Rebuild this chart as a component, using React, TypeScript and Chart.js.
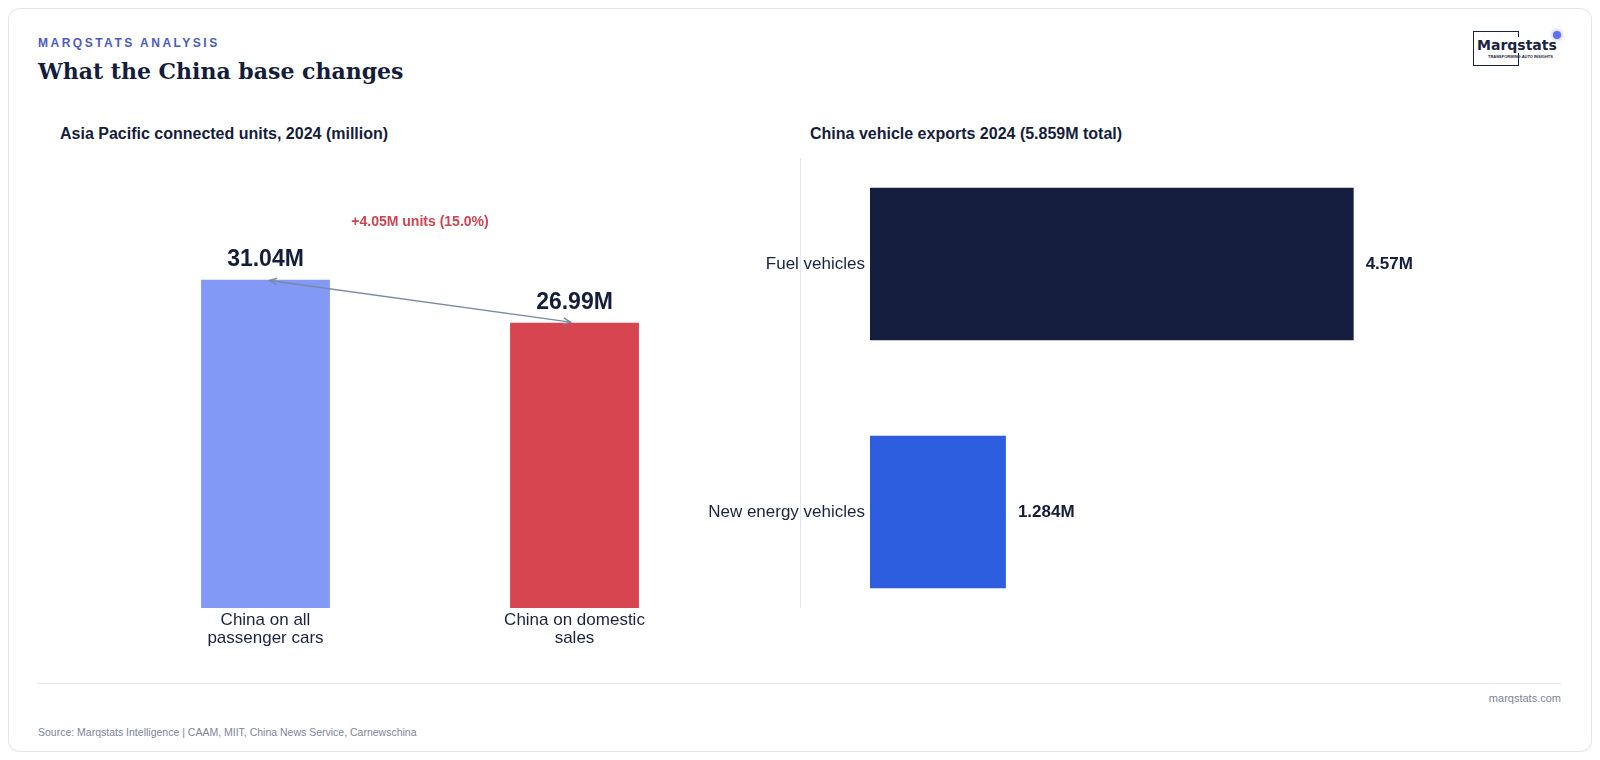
import React, { useEffect, useRef } from "react";
import { Chart, registerables } from "chart.js";

Chart.register(...registerables);

// ---- Data ----
const leftCategories: string[][] = [
  ["China on all", "passenger cars"],
  ["China on domestic", "sales"],
];
const leftValues: number[] = [31.04, 26.99];
const leftValueLabels: string[] = ["31.04M", "26.99M"];
const leftColors: string[] = ["#8299F5", "#D64550"];
const leftAxisMax = 42;
const deltaText = "+4.05M units (15.0%)";

const rightCategories: string[] = ["Fuel vehicles", "New energy vehicles"];
const rightValues: number[] = [4.57, 1.284];
const rightValueLabels: string[] = ["4.57M", "1.284M"];
const rightColors: string[] = ["#151E3F", "#2C5EDF"];
const rightAxisMax = 6;

const FONT = "'Liberation Sans', Arial, Helvetica, sans-serif";
const INK = "#141D3B";

function LeftChart() {
  const ref = useRef<HTMLCanvasElement | null>(null);
  useEffect(() => {
    if (!ref.current) return;
    const labelsPlugin = {
      id: "leftLabels",
      afterDatasetsDraw(chart: any) {
        const ctx = chart.ctx;
        const meta = chart.getDatasetMeta(0);
        const yScale = chart.scales.y;
        ctx.save();
        ctx.font = `bold 23px ${FONT}`;
        ctx.fillStyle = INK;
        ctx.textAlign = "center";
        ctx.textBaseline = "middle";
        meta.data.forEach((bar: any, i: number) => {
          ctx.fillText(leftValueLabels[i], bar.x, bar.y - 20);
        });
        // arrow between bar tops
        const a = meta.data[0];
        const b = meta.data[1];
        const dx = b.x - a.x;
        const dy = b.y - a.y;
        const len = Math.sqrt(dx * dx + dy * dy);
        const ux = dx / len;
        const uy = dy / len;
        const shrink = 4;
        const x1 = a.x + ux * shrink;
        const y1 = a.y + uy * shrink;
        const x2 = b.x - ux * shrink;
        const y2 = b.y - uy * shrink;
        ctx.strokeStyle = "#7B8AA1";
        ctx.lineWidth = 1.5;
        ctx.beginPath();
        ctx.moveTo(x1, y1);
        ctx.lineTo(x2, y2);
        ctx.stroke();
        const head = (tx: number, ty: number, dirx: number, diry: number) => {
          const hl = 8;
          const ang = 0.42;
          const base = Math.atan2(diry, dirx);
          ctx.beginPath();
          ctx.moveTo(tx - hl * Math.cos(base - ang), ty - hl * Math.sin(base - ang));
          ctx.lineTo(tx, ty);
          ctx.lineTo(tx - hl * Math.cos(base + ang), ty - hl * Math.sin(base + ang));
          ctx.stroke();
        };
        head(x2, y2, ux, uy);
        head(x1, y1, -ux, -uy);
        // delta annotation
        const maxVal = Math.max(...leftValues);
        ctx.font = `bold 14px ${FONT}`;
        ctx.fillStyle = "#D0434F";
        ctx.fillText(deltaText, (a.x + b.x) / 2, yScale.getPixelForValue(maxVal * 1.18) + 1);
        ctx.restore();
      },
    };
    const chart = new Chart(ref.current, {
      type: "bar",
      data: {
        labels: leftCategories as any,
        datasets: [
          {
            data: leftValues,
            backgroundColor: leftColors,
            borderWidth: 0,
            barPercentage: 0.417,
            categoryPercentage: 1,
          },
        ],
      },
      options: {
        animation: false,
        responsive: false,
        maintainAspectRatio: false,
        layout: { padding: { left: 71, right: 31, top: 14, bottom: 12 } },
        plugins: { legend: { display: false }, tooltip: { enabled: false } },
        scales: {
          x: {
            grid: { display: false, drawTicks: false },
            border: { display: false },
            ticks: {
              color: "#1A2340",
              font: { size: 17, family: FONT, lineHeight: 1.06 },
              padding: 3,
              maxRotation: 0,
              autoSkip: false,
            },
            afterFit(scale: any) {
              scale.height = 60;
            },
          },
          y: { display: false, min: 0, max: leftAxisMax },
        },
      },
      plugins: [labelsPlugin],
    });
    return () => chart.destroy();
  }, []);
  return <canvas ref={ref} width={720} height={530} style={{ width: 720, height: 530, display: "block" }} />;
}

function RightChart() {
  const ref = useRef<HTMLCanvasElement | null>(null);
  useEffect(() => {
    if (!ref.current) return;
    const labelsPlugin = {
      id: "rightLabels",
      afterDatasetsDraw(chart: any) {
        const ctx = chart.ctx;
        const meta = chart.getDatasetMeta(0);
        ctx.save();
        ctx.font = `bold 17px ${FONT}`;
        ctx.fillStyle = INK;
        ctx.textAlign = "left";
        ctx.textBaseline = "middle";
        meta.data.forEach((bar: any, i: number) => {
          ctx.fillText(rightValueLabels[i], bar.x + 12, bar.y);
        });
        ctx.restore();
      },
    };
    const chart = new Chart(ref.current, {
      type: "bar",
      data: {
        labels: rightCategories,
        datasets: [
          {
            data: rightValues,
            backgroundColor: rightColors,
            borderWidth: 0,
            barPercentage: 0.614,
            categoryPercentage: 1,
          },
        ],
      },
      options: {
        indexAxis: "y",
        animation: false,
        responsive: false,
        maintainAspectRatio: false,
        layout: { padding: { left: 0, right: 20, top: 20, bottom: 24 } },
        plugins: { legend: { display: false }, tooltip: { enabled: false } },
        scales: {
          x: { display: false, min: 0, max: rightAxisMax },
          y: {
            grid: { display: false, drawTicks: false },
            border: { display: false },
            ticks: {
              color: "#1A2340",
              font: { size: 17, family: FONT },
              padding: 5,
              autoSkip: false,
            },
            afterFit(scale: any) {
              scale.width = 180;
            },
          },
        },
      },
      plugins: [labelsPlugin],
    });
    return () => chart.destroy();
  }, []);
  return <canvas ref={ref} width={835} height={540} style={{ width: 835, height: 540, display: "block" }} />;
}

// page coordinate helper (wrapper sits at page 8,8)
const P = (v: number) => v - 8;

export default function App() {
  return (
    <div style={{ position: "relative", width: 1584, height: 744, fontFamily: FONT }}>
      <div
        style={{
          position: "absolute",
          left: 0,
          top: 0,
          width: 1584,
          height: 744,
          boxSizing: "border-box",
          border: "1px solid #E2E5EA",
          borderRadius: 12,
          background: "#FFFFFF",
          boxShadow: "0 1px 3px rgba(20,29,59,0.06)",
        }}
      />
      {/* header */}
      <div
        style={{
          position: "absolute",
          left: P(38),
          top: P(43) - 8,
          height: 16,
          lineHeight: "16px",
          fontSize: 12,
          fontWeight: 700,
          letterSpacing: "2.5px",
          color: "#4A5BC4",
          whiteSpace: "nowrap",
        }}
      >
        MARQSTATS ANALYSIS
      </div>
      <div
        style={{
          position: "absolute",
          left: P(38),
          top: P(70.5) - 15,
          height: 30,
          lineHeight: "30px",
          fontSize: 22,
          fontWeight: 700,
          fontFamily: "'DejaVu Serif', Georgia, serif",
          color: INK,
          whiteSpace: "nowrap",
        }}
      >
        What the China base changes
      </div>
      {/* logo */}
      <div
        style={{
          position: "absolute",
          left: P(1473),
          top: P(31),
          width: 46,
          height: 35,
          boxSizing: "border-box",
          border: "1.5px solid #1A2340",
        }}
      />
      <div
        style={{
          position: "absolute",
          left: P(1477),
          top: P(45) - 8,
          height: 16,
          lineHeight: "16px",
          fontSize: 14,
          fontWeight: 700,
          fontFamily: "'DejaVu Sans', sans-serif",
          color: "#1A2340",
          background: "#FFFFFF",
          paddingRight: 1,
          whiteSpace: "nowrap",
        }}
      >
        Marqstats
      </div>
      <div
        style={{
          position: "absolute",
          left: P(1488),
          top: P(57) - 3,
          height: 6,
          lineHeight: "6px",
          fontSize: 4,
          fontWeight: 700,
          color: "#1A2340",
          whiteSpace: "nowrap",
        }}
      >
        TRANSFORMING AUTO INSIGHTS
      </div>
      <div
        style={{
          position: "absolute",
          left: P(1557) - 4,
          top: P(35) - 4,
          width: 8,
          height: 8,
          borderRadius: 4,
          background: "#5D6FF2",
          boxShadow: "0 0 4px rgba(93,111,242,0.7)",
        }}
      />
      {/* subplot titles */}
      <div
        style={{
          position: "absolute",
          left: P(60),
          top: P(134) - 10,
          height: 20,
          lineHeight: "20px",
          fontSize: 16,
          fontWeight: 700,
          color: INK,
          whiteSpace: "nowrap",
        }}
      >
        Asia Pacific connected units, 2024 (million)
      </div>
      <div
        style={{
          position: "absolute",
          left: P(810),
          top: P(134) - 10,
          height: 20,
          lineHeight: "20px",
          fontSize: 16,
          fontWeight: 700,
          color: INK,
          whiteSpace: "nowrap",
        }}
      >
        China vehicle exports 2024 (5.859M total)
      </div>
      {/* divider */}
      <div
        style={{
          position: "absolute",
          left: P(800),
          top: P(158),
          width: 1,
          height: 450,
          background: "#E5E7EB",
        }}
      />
      {/* charts */}
      <div style={{ position: "absolute", left: P(40), top: P(150) }}>
        <LeftChart />
      </div>
      <div style={{ position: "absolute", left: P(690), top: P(120) }}>
        <RightChart />
      </div>
      {/* footer */}
      <div
        style={{
          position: "absolute",
          left: P(38),
          top: P(683),
          width: 1523,
          height: 1,
          background: "#E5E7EB",
        }}
      />
      <div
        style={{
          position: "absolute",
          right: 1584 - P(1561),
          top: P(698) - 7,
          height: 14,
          lineHeight: "14px",
          fontSize: 11,
          color: "#7C869C",
          whiteSpace: "nowrap",
        }}
      >
        marqstats.com
      </div>
      <div
        style={{
          position: "absolute",
          left: P(38),
          top: P(732) - 7,
          height: 14,
          lineHeight: "14px",
          fontSize: 10.5,
          color: "#7C869C",
          whiteSpace: "nowrap",
        }}
      >
        Source: Marqstats Intelligence | CAAM, MIIT, China News Service, Carnewschina
      </div>
    </div>
  );
}
